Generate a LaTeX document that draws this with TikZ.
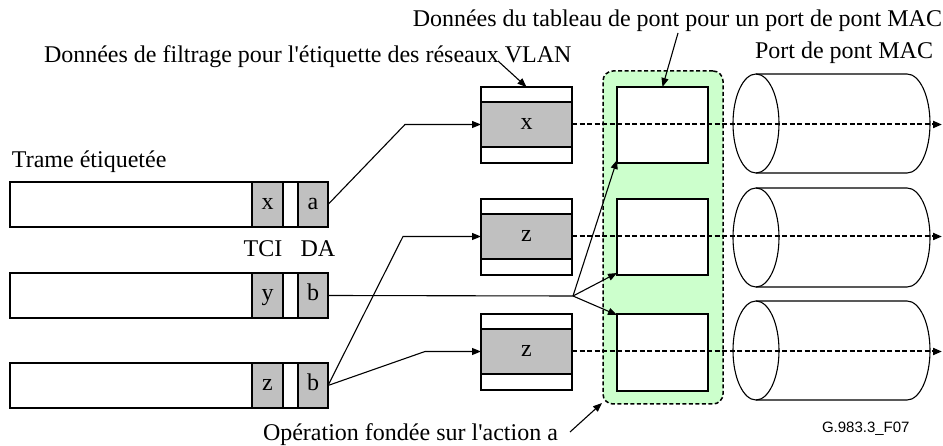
\documentclass[tikz,border=0pt]{standalone}
\usepackage{fontspec}
\setmainfont{Liberation Serif}
\newfontfamily\figsans{Liberation Sans}
\usetikzlibrary{arrows.meta}
\definecolor{cellgray}{HTML}{C0C0C0}
\definecolor{opgreen}{HTML}{CCFFCC}
\begin{document}
\begin{tikzpicture}[x=1pt,y=-1pt,
  font=\fontsize{24}{28}\selectfont,
  every node/.style={inner sep=0pt, outer sep=0pt},
  frame/.style={draw, line width=1.1pt, fill=white, anchor=north west,
    minimum width=318pt, minimum height=45pt},
  cell/.style={draw, line width=1.1pt, fill=cellgray, anchor=north west,
    minimum height=45pt, text height=11pt, text depth=0pt},
  filterbox/.style={draw, line width=1.1pt, fill=white, anchor=north west,
    minimum width=91pt, minimum height=76pt},
  filterband/.style={draw, line width=1.1pt, fill=cellgray, anchor=north west,
    minimum width=91pt, minimum height=45pt, text height=11pt, text depth=0pt},
  tablebox/.style={draw, line width=1.1pt, fill=white, anchor=north west,
    minimum width=91pt, minimum height=76pt},
  oparea/.style={draw, line width=1.5pt, dash pattern=on 4pt off 2.5pt,
    fill=opgreen, rounded corners=10pt, anchor=north west,
    minimum width=120pt, minimum height=333pt},
  conn/.style={line width=1.1pt},
  arrowconn/.style={line width=1.1pt, -{Triangle[length=9pt,width=7pt]}},
  flow/.style={line width=2pt, dash pattern=on 5pt off 2.5pt,
    -{Triangle[length=9pt,width=7pt]}},
  pipe/.style={line width=1.1pt}
]
\useasboundingbox (0,0) rectangle (943,446);

% green operation area with the bridge table entries
\node[oparea] (grp) at (603,71) {};
\node[tablebox] (p1) at (617,87) {};
\node[tablebox] (p2) at (617,199) {};
\node[tablebox, minimum height=77pt] (p3) at (617,314) {};

% MAC bridge ports drawn as cylinders
\foreach \i/\c in {1/123.5, 2/237.5, 3/350.5}{
  \coordinate (c\i) at (756,\c);
  \draw[pipe] (756,\c-49.5) -- (907,\c-49.5)
     arc[start angle=90, end angle=-90, x radius=23pt, y radius=49.5pt]
     -- (756,\c+49.5);
  \draw[pipe] (c\i) ellipse [x radius=23pt, y radius=49.5pt];
}

% tagged frames
\node[frame] (f1) at (10,182) {};
\node[cell, minimum width=31pt] (t1) at (252,182) {x};
\node[cell, minimum width=30pt] (d1) at (298,182) {a};
\node[frame] (f2) at (10,273) {};
\node[cell, minimum width=31pt] (t2) at (252,273) {y};
\node[cell, minimum width=30pt] (d2) at (298,273) {b};
\node[frame] (f3) at (10,363) {};
\node[cell, minimum width=31pt] (t3) at (252,363) {z};
\node[cell, minimum width=30pt] (d3) at (298,363) {b};

% VLAN filtering entries
\node[filterbox] (v1) at (481,87) {};
\node[filterband] (vb1) at (481,102) {x};
\node[filterbox] (v2) at (481,199) {};
\node[filterband] (vb2) at (481,214) {z};
\node[filterbox] (v3) at (481,314) {};
\node[filterband] (vb3) at (481,329) {z};

% forwarding paths through the ports
\coordinate (e1) at (942,124.5);
\coordinate (e2) at (942,236.5);
\coordinate (e3) at (942,351.5);
\draw[flow] (vb1.east) -- (e1);
\draw[flow] (vb2.east) -- (e2);
\draw[flow] (vb3.east) -- (e3);

% frames to filtering entries
\draw[arrowconn] (d1.east) -- ([xshift=-76pt]vb1.west) -- (vb1.west);
\draw[arrowconn] (d3.east) -- ([xshift=-78pt]vb2.west) -- (vb2.west);
\draw[arrowconn] (d3.east) -- ([xshift=-56pt]vb3.west) -- (vb3.west);

% flooding of the frame with address b
\coordinate (sp) at (573,296);
\draw[conn] (d2.east) -- (sp);
\draw[arrowconn] (sp) -- ([yshift=3pt]p1.south west);
\draw[arrowconn] (sp) -- ([yshift=2pt]p2.south west);
\draw[arrowconn] (sp) -- ([yshift=-1pt]p3.north west);

% labels
\node[anchor=base west] (lblframe) at (12,168) {Trame étiquetée};
\node[anchor=base] (lbltci) at (263,257) {TCI};
\node[anchor=base] (lblda) at (318,257) {DA};
\node[anchor=base east] (lbltable) at (942,27) {Données du tableau de pont pour un port de pont MAC};
\node[anchor=base west] (lblfilter) at (44,63) {Données de filtrage pour l\textquotesingle étiquette des réseaux VLAN};
\node[anchor=base west] (lblport) at (755,59) {Port de pont MAC};
\node[anchor=base west] (lblop) at (263,440) {Opération fondée sur l\textquotesingle action a};
\node[anchor=base west, font=\figsans\fontsize{15}{18}\selectfont] (lblfig) at (822,432) {G.983.3\_F07};

\coordinate (qfilter) at (498,61);
\coordinate (qtable) at (678,33);
\coordinate (qop) at (570,432);
\draw[arrowconn] (qfilter) -- (v1.north);
\draw[arrowconn] (qtable) -- (p1.north);
\draw[arrowconn] (qop) -- ([shift={(-1pt,1pt)}]grp.south west);
\end{tikzpicture}
\end{document}
